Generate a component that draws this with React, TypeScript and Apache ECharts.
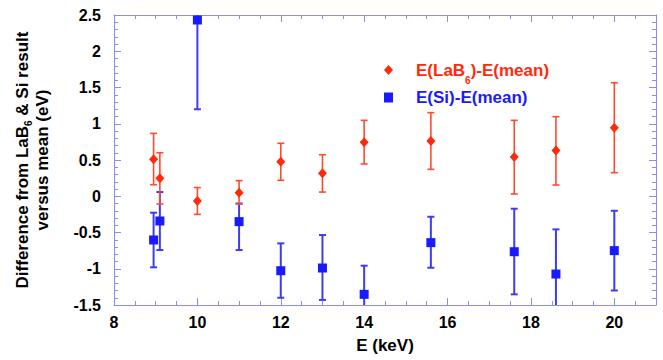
import React, { useEffect, useRef } from "react";
import * as echarts from "echarts";

// Photon energies (keV)
const energies = [8.95, 9.1, 10, 11, 12, 13, 14, 15.6, 17.6, 18.6, 20];

// E(LaB6) - E(mean) (eV) with error bar limits
const labValues = [0.51, 0.25, -0.065, 0.05, 0.477, 0.316, 0.745, 0.762, 0.54, 0.63, 0.946];
const labLow = [0.16, -0.107, -0.25, -0.107, 0.22, 0.058, 0.445, 0.371, 0.031, 0.155, 0.325];
const labHigh = [0.867, 0.6, 0.12, 0.215, 0.73, 0.573, 1.047, 1.153, 1.047, 1.098, 1.566];

// E(Si) - E(mean) (eV) with error bar limits
const siValues = [-0.603, -0.341, 2.431, -0.35, -1.027, -0.99, -1.353, -0.64, -0.765, -1.073, -0.75];
const siLow = [-0.98, -0.742, 1.2, -0.742, -1.4, -1.43, -1.75, -0.986, -1.353, -1.69, -1.3];
const siHigh = [-0.227, 0.058, 3.66, -0.1, -0.65, -0.535, -0.958, -0.283, -0.172, -0.457, -0.2];

const LAB_NAME = "E(LaB6)-E(mean)";
const SI_NAME = "E(Si)-E(mean)";

const RED = "#ff2a0a";
const RED_BAR = "#ff4a30";
const BLUE = "#1a1aff";
const BLUE_BAR = "#3c3cf2";
const AXIS = "#8c8cf0";
const FONT = "'Liberation Sans', Arial, Helvetica, sans-serif";

function errorRenderer(color: string, lineWidth: number, capHalf: number) {
  return (params: any, api: any) => {
    const x = api.value(0);
    const lo = api.value(1);
    const hi = api.value(2);
    const pLo = api.coord([x, lo]);
    const pHi = api.coord([x, hi]);
    const cs = params.coordSys;
    const top = cs.y;
    const bottom = cs.y + cs.height;
    const y1 = Math.max(pHi[1], top);
    const y2 = Math.min(pLo[1], bottom);
    const style = { stroke: color, lineWidth };
    const children: any[] = [
      { type: "line", shape: { x1: pLo[0], y1, x2: pLo[0], y2 }, style },
    ];
    if (pHi[1] >= top) {
      children.push({
        type: "line",
        shape: { x1: pHi[0] - capHalf, y1: pHi[1], x2: pHi[0] + capHalf, y2: pHi[1] },
        style,
      });
    }
    if (pLo[1] <= bottom) {
      children.push({
        type: "line",
        shape: { x1: pLo[0] - capHalf, y1: pLo[1], x2: pLo[0] + capHalf, y2: pLo[1] },
        style,
      });
    }
    return { type: "group", children };
  };
}

function axisCommon(showLabels: boolean) {
  return {
    axisLine: { show: true, onZero: false, lineStyle: { color: AXIS, width: 1 } },
    axisTick: { show: true, inside: true, length: 7, lineStyle: { color: AXIS, width: 1 } },
    minorTick: { show: true, inside: true, length: 4, lineStyle: { color: AXIS, width: 1 } },
    splitLine: { show: false },
    minorSplitLine: { show: false },
    axisLabel: {
      show: showLabels,
      color: "#000",
      fontWeight: "bold",
      fontSize: 16,
      fontFamily: FONT,
      showMaxLabel: false,
    },
  };
}

export default function App() {
  const ref = useRef<HTMLDivElement>(null);

  useEffect(() => {
    if (!ref.current) return;
    const chart = echarts.init(ref.current, undefined, { renderer: "svg" });

    const xBase = { type: "value", min: 8, max: 21, interval: 2 };
    const yBase = { type: "value", min: -1.5, max: 2.5, interval: 0.5 };

    const option: any = {
      animation: false,
      backgroundColor: "#fff",
      grid: { left: 114, right: 7, top: 15, bottom: 55, containLabel: false },
      xAxis: [
        {
          ...xBase,
          ...axisCommon(true),
          position: "bottom",
          axisLabel: { ...axisCommon(true).axisLabel, margin: 9 },
          minorTick: { ...axisCommon(true).minorTick, splitNumber: 4 },
          name: "E (keV)",
          nameLocation: "middle",
          nameGap: 32,
          nameTextStyle: { color: "#000", fontWeight: "bold", fontSize: 17, fontFamily: FONT },
        },
        {
          ...xBase,
          ...axisCommon(false),
          position: "top",
          minorTick: { ...axisCommon(false).minorTick, splitNumber: 4 },
        },
      ],
      yAxis: [
        {
          ...yBase,
          ...axisCommon(true),
          position: "left",
          axisLabel: { ...axisCommon(true).axisLabel, margin: 13, showMaxLabel: true },
          minorTick: { ...axisCommon(true).minorTick, splitNumber: 5 },
          name: "{n|Difference from LaB}{s|6}{n| & Si result}\n{n|versus mean (eV)}",
          nameLocation: "middle",
          nameGap: 62,
          nameRotate: 90,
          nameTextStyle: {
            color: "#000",
            fontWeight: "bold",
            fontSize: 17,
            fontFamily: FONT,
            align: "center",
            rich: {
              n: { color: "#000", fontWeight: "bold", fontSize: 17, fontFamily: FONT, lineHeight: 20 },
              s: {
                color: "#000",
                fontWeight: "bold",
                fontSize: 10,
                fontFamily: FONT,
                lineHeight: 20,
                padding: [13, 0, 0, 0],
              },
            },
          },
        },
        {
          ...yBase,
          ...axisCommon(false),
          position: "right",
          minorTick: { ...axisCommon(false).minorTick, splitNumber: 5 },
        },
      ],
      legend: {
        show: true,
        orient: "vertical",
        left: 379,
        top: 50,
        itemWidth: 9,
        itemHeight: 10,
        itemGap: 4,
        selectedMode: false,
        data: [
          { name: LAB_NAME, icon: "diamond" },
          { name: SI_NAME, icon: "rect" },
        ],
        formatter: (name: string) =>
          name === LAB_NAME
            ? "{rp|E(LaB}{rs|6}{ra|)-E(mean)}"
            : "{bp|E(Si)-E(mean)}",
        textStyle: {
          fontFamily: FONT,
          fontWeight: "bold",
          fontSize: 17,
          rich: {
            rp: { color: RED, fontWeight: "bold", fontSize: 17, fontFamily: FONT, lineHeight: 20, padding: [0, 0, 0, 18] },
            ra: { color: RED, fontWeight: "bold", fontSize: 17, fontFamily: FONT, lineHeight: 20 },
            rs: { color: RED, fontWeight: "bold", fontSize: 10, fontFamily: FONT, lineHeight: 20, padding: [20, 0, 0, 0] },
            bp: { color: BLUE, fontWeight: "bold", fontSize: 17, fontFamily: FONT, lineHeight: 20, padding: [0, 0, 0, 18] },
          },
        },
      },
      series: [
        {
          name: "si-err",
          type: "custom",
          silent: true,
          renderItem: errorRenderer(BLUE_BAR, 2, 3.5),
          encode: { x: 0, y: [1, 2] },
          data: energies.map((e, i) => [e, siLow[i], siHigh[i]]),
          z: 2,
        },
        {
          name: SI_NAME,
          type: "scatter",
          silent: true,
          symbol: "rect",
          symbolSize: 9,
          itemStyle: { color: BLUE, opacity: 1 },
          data: energies.map((e, i) => [e, siValues[i]]),
          z: 3,
        },
        {
          name: "lab-err",
          type: "custom",
          silent: true,
          renderItem: errorRenderer(RED_BAR, 1.6, 3.5),
          encode: { x: 0, y: [1, 2] },
          data: energies.map((e, i) => [e, labLow[i], labHigh[i]]),
          z: 4,
        },
        {
          name: LAB_NAME,
          type: "scatter",
          silent: true,
          symbol: "diamond",
          symbolSize: [9, 10],
          itemStyle: { color: RED, opacity: 1 },
          data: energies.map((e, i) => [e, labValues[i]]),
          z: 5,
        },
      ],
    };

    chart.setOption(option);
    return () => chart.dispose();
  }, []);

  return (
    <div
      ref={ref}
      style={{ position: "fixed", left: 0, top: 0, width: 663, height: 360, background: "#fff" }}
    />
  );
}
